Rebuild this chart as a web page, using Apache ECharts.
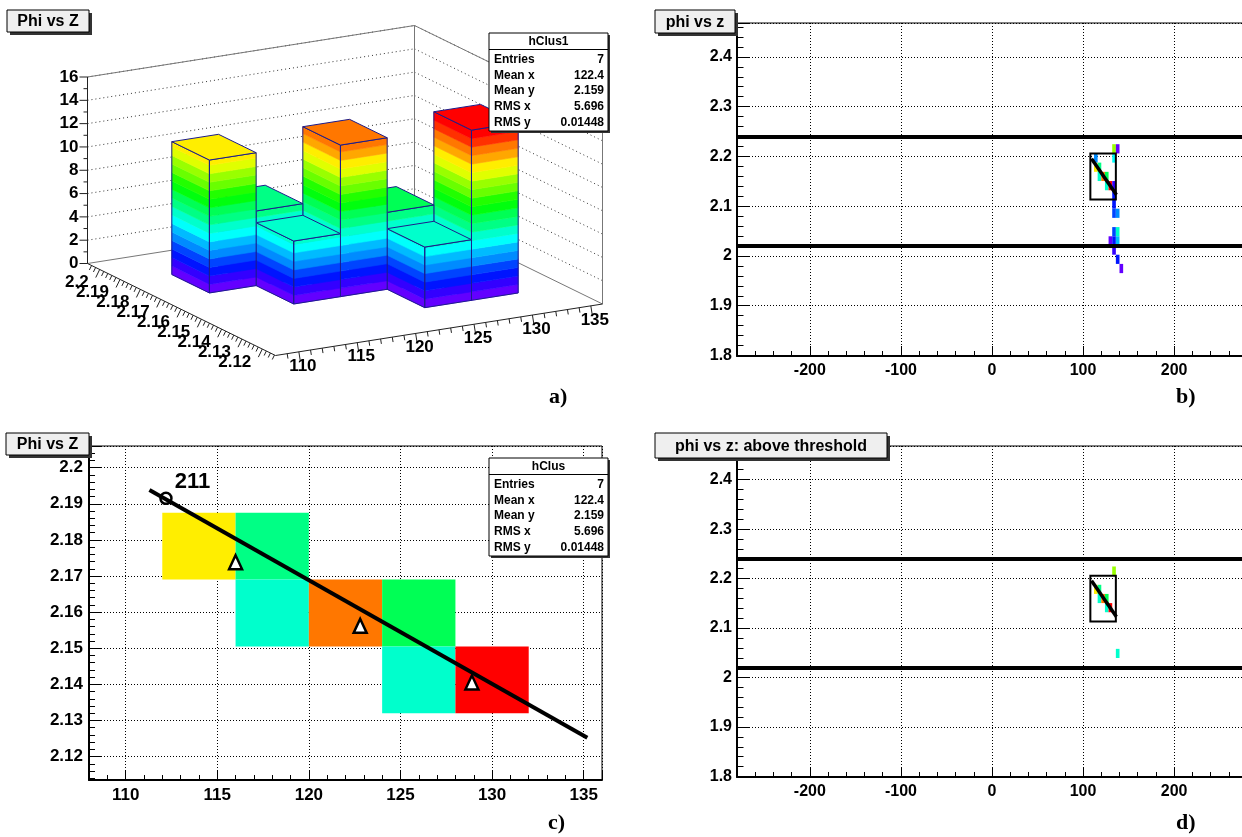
<!DOCTYPE html>
<html>
<head>
<meta charset="utf-8">
<title>Phi vs Z</title>
<script src="https://cdn.jsdelivr.net/npm/echarts@6/dist/echarts.min.js"></script>
<style>
  html, body { margin: 0; padding: 0; background: #fff; }
  #chart { width: 1242px; height: 837px; }
</style>
</head>
<body>
<div id="chart"></div>
<script>
// cluster histogram (hClus / hClus1): lower bin edges in z and phi, bin contents
const clusZ = [112, 116, 116, 120, 124, 124, 128]
const clusPhi = [2.169, 2.169, 2.1505, 2.1505, 2.1505, 2.132, 2.132]
const clusVal = [11.4, 6.4, 5.4, 13.0, 6.6, 5.2, 14.6]

// the other hits of the event (panel b), same binning
const hitZ = [132, 136, 112, 132, 132, 132, 132, 132, 136, 132, 136, 128, 132, 136, 132, 136, 140]
const hitPhi = [2.206, 2.206, 2.1875, 2.1875, 2.132, 2.1135, 2.095, 2.0765, 2.0765, 2.0395, 2.0395, 2.021, 2.021, 2.021, 2.0025, 1.984, 1.9655]
const hitVal = [9.8, 0.6, 3.3, 4.4, 1.2, 1.6, 2.0, 2.2, 3.0, 2.2, 5.3, 0.5, 1.8, 4.0, 1.0, 1.6, 0.6]

const zBin = 4
const phiBin = 0.0185
const threshold = 5

const clusZRange = [108, 136]
const clusPhiRange = [2.1135, 2.206]
const eventZRange = [-280, 280]
const eventPhiRange = [1.799, 2.468]
const phiWindow = [2.0195, 2.2435]

// straight line fit through the cluster
const fitZ = [111.3, 135.2]
const fitPhi = [2.1938, 2.1252]
const fitZEvent = [109.3, 136.6]
const fitPhiEvent = [2.1955, 2.1228]

// seed point and column centroids
const seedZ = [112.2]
const seedPhi = [2.1915]
const seedLabel = ['211']
const centroidZ = [116.0, 122.8, 128.9]
const centroidPhi = [2.1738, 2.1562, 2.1405]

// lego plot tick labels
const legoZTicks = [110, 115, 120, 125, 130, 135]
const legoPhiTicks = [2.12, 2.13, 2.14, 2.15, 2.16, 2.17, 2.18, 2.19, 2.2]
const legoCntTicks = [0, 2, 4, 6, 8, 10, 12, 14, 16]
const legoCntMax = 16

const statLabels = ['Entries', 'Mean x', 'Mean y', 'RMS x', 'RMS y']
const statValues = ['7', '122.4', '2.159', '5.696', '0.01448']

// ROOT "pretty" palette, 20 contour levels
const paletteMax = 14.6
const nLevels = 20
function levelColor(level) {
  const idx = Math.min(49, Math.floor((level + 0.99) * 50 / nLevels))
  const hue = 280 - (idx + 1) * 5.6
  return 'hsl(' + hue.toFixed(1) + ',100%,50%)'
}
function valueColor(v) {
  return levelColor(Math.min(nLevels - 1, Math.floor(v / paletteMax * nLevels)))
}

// parallel projection of the lego box onto panel a (pixels)
const lego = { ox: 275.5, oy: 355.5, zx: 327, zy: -51.5, px: -188, py: -92, cy: -186.5 }
function legoPoint(z, phi, cnt) {
  const u = (z - clusZRange[0]) / (clusZRange[1] - clusZRange[0])
  const v = (phi - clusPhiRange[0]) / (clusPhiRange[1] - clusPhiRange[0])
  const w = cnt / legoCntMax
  return [lego.ox + u * lego.zx + v * lego.px, lego.oy + u * lego.zy + v * lego.py + w * lego.cy]
}

const FONT = '"Liberation Sans", Arial, sans-serif'
const labelFont = 'bold 17px ' + FONT

function renderLegoFrame(params, api) {
  const P = (z, p, c) => api.coord(legoPoint(z, p, c))
  const z0 = clusZRange[0], z1 = clusZRange[1]
  const p0 = clusPhiRange[0], p1 = clusPhiRange[1]
  const top = legoCntMax
  const children = []
  const line = (a, b, style) => children.push({
    type: 'line', shape: { x1: a[0], y1: a[1], x2: b[0], y2: b[1] }, style: style
  })
  const text = (pt, str, align) => children.push({
    type: 'text', x: pt[0], y: pt[1],
    style: { text: str, fill: '#000', font: labelFont, align: align, textAlign: align, verticalAlign: 'middle', textVerticalAlign: 'middle' }
  })
  const dotted = { stroke: '#333', lineWidth: 1, lineDash: [1, 3] }
  const edge = { stroke: '#777', lineWidth: 1 }
  const axis = { stroke: '#222', lineWidth: 1 }

  legoCntTicks.forEach(c => {
    if (c === 0) return
    line(P(z0, p1, c), P(z1, p1, c), dotted)
    line(P(z1, p1, c), P(z1, p0, c), dotted)
  })
  line(P(z0, p1, top), P(z1, p1, top), edge)
  line(P(z1, p1, 0), P(z1, p1, top), edge)
  line(P(z1, p1, top), P(z1, p0, top), edge)
  line(P(z1, p0, 0), P(z1, p0, top), edge)
  line(P(z0, p1, 0), P(z1, p1, 0), edge)
  line(P(z1, p1, 0), P(z1, p0, 0), edge)
  line(P(z0, p1, 0), P(z0, p1, top), axis)
  line(P(z0, p0, 0), P(z1, p0, 0), axis)
  line(P(z0, p0, 0), P(z0, p1, 0), axis)

  // z axis (front-right edge)
  const dz = [0.156, 0.988]
  for (let z = z0 + 1; z < z1; z++) {
    const a = P(z, p0, 0)
    const len = z % 5 === 0 ? 9 : 5
    line(a, [a[0] + dz[0] * len, a[1] + dz[1] * len], axis)
  }
  legoZTicks.forEach(z => {
    const a = P(z, p0, 0)
    text([a[0] + 4, a[1] + 14], String(z), 'center')
  })
  // phi axis (front-left edge)
  const dp = [-0.44, 0.9]
  for (let k = Math.ceil(p0 / 0.002); k * 0.002 < p1; k++) {
    const a = P(z0, k * 0.002, 0)
    const len = k % 5 === 0 ? 9 : 5
    line(a, [a[0] + dp[0] * len, a[1] + dp[1] * len], axis)
  }
  legoPhiTicks.forEach(p => {
    const a = P(z0, p, 0)
    text([a[0] - 11, a[1] + 13], String(p), 'right')
  })
  // count axis
  for (let c = 0; c <= top; c++) {
    const a = P(z0, p1, c)
    const len = c % 2 === 0 ? 8 : 4
    line(a, [a[0] - len, a[1]], axis)
  }
  legoCntTicks.forEach(c => {
    const a = P(z0, p1, c)
    text([a[0] - 9, a[1]], String(c), 'right')
  })
  return { type: 'group', children: children }
}

function renderLegoBar(params, api) {
  const z0 = api.value(0), p0 = api.value(1), h = api.value(2)
  const z1 = z0 + zBin, p1 = p0 + phiBin
  const P = (z, p, c) => api.coord(legoPoint(z, p, c))
  const step = paletteMax / nLevels
  const edgeColor = '#1c1c8c'
  const children = []
  for (let j = 0; j * step < h; j++) {
    const lo = j * step, hi = Math.min((j + 1) * step, h)
    const fill = levelColor(j)
    children.push({ type: 'polygon', shape: { points: [P(z0, p1, lo), P(z0, p0, lo), P(z0, p0, hi), P(z0, p1, hi)] },
      style: { fill: fill, stroke: fill, lineWidth: 0.6 } })
    children.push({ type: 'polygon', shape: { points: [P(z0, p0, lo), P(z1, p0, lo), P(z1, p0, hi), P(z0, p0, hi)] },
      style: { fill: fill, stroke: fill, lineWidth: 0.6 } })
  }
  const topLevel = Math.min(nLevels - 1, Math.floor(h / step))
  children.push({ type: 'polygon', shape: { points: [P(z0, p0, 0), P(z1, p0, 0), P(z1, p0, h), P(z0, p0, h)] },
    style: { fill: 'none', stroke: edgeColor, lineWidth: 1 } })
  children.push({ type: 'polygon', shape: { points: [P(z0, p1, 0), P(z0, p0, 0), P(z0, p0, h), P(z0, p1, h)] },
    style: { fill: 'none', stroke: edgeColor, lineWidth: 1 } })
  children.push({ type: 'polygon', shape: { points: [P(z0, p0, h), P(z1, p0, h), P(z1, p1, h), P(z0, p1, h)] },
    style: { fill: levelColor(topLevel), stroke: edgeColor, lineWidth: 1 } })
  return { type: 'group', children: children }
}

function renderCell(params, api) {
  const a = api.coord([api.value(0), api.value(1) + phiBin])
  const b = api.coord([api.value(0) + zBin, api.value(1)])
  return { type: 'rect', shape: { x: a[0], y: a[1], width: b[0] - a[0], height: b[1] - a[1] },
    style: { fill: valueColor(api.value(2)) } }
}

function renderBox(params, api) {
  const a = api.coord([api.value(0), api.value(3)])
  const b = api.coord([api.value(2), api.value(1)])
  return { type: 'rect', shape: { x: a[0], y: a[1], width: b[0] - a[0], height: b[1] - a[1] },
    style: { fill: 'none', stroke: '#000', lineWidth: 2 } }
}

// data rows
const legoRows = clusZ.map((z, i) => [z, clusPhi[i], clusVal[i]])
const depth = r => (r[0] - clusZRange[0]) / zBin + (r[1] - clusPhiRange[0]) / phiBin
const legoData = legoRows.slice().sort((a, b) => depth(b) - depth(a) || b[0] - a[0])
const eventRows = legoRows.concat(hitZ.map((z, i) => [z, hitPhi[i], hitVal[i]]))
const aboveRows = eventRows.filter(r => r[2] >= threshold)
const boxRow = [[clusZRange[0], clusPhiRange[0], clusZRange[1], clusPhiRange[1]]]

function valueAxis(gridIndex, range, splitNumber, tickLen, fontSize, margin) {
  return {
    type: 'value', gridIndex: gridIndex, min: range[0], max: range[1], splitNumber: splitNumber,
    axisLine: { show: true, onZero: false, lineStyle: { color: '#000', width: 2 } },
    axisTick: { show: true, inside: true, length: tickLen, lineStyle: { color: '#000', width: 1 } },
    minorTick: { show: true, splitNumber: 5, length: tickLen / 2, lineStyle: { color: '#000', width: 1 } },
    splitLine: { show: true, lineStyle: { color: '#000', width: 1, type: [1, 2] } },
    axisLabel: { showMinLabel: false, showMaxLabel: false, color: '#000', fontWeight: 'bold',
      fontSize: fontSize, fontFamily: FONT, margin: margin }
  }
}

const plotGrid = (left, top, width, height) => ({
  left: left, top: top, width: width, height: height, show: true,
  borderColor: '#000', borderWidth: 1, backgroundColor: 'transparent', containLabel: false, outerBoundsMode: 'none'
})

// keep annotation boxes above every series
function onTop(el) {
  el.z = 100
  el.zlevel = 1
  if (el.children) el.children.forEach(onTop)
  return el
}

function titleBox(x, y, w, h, text) {
  return onTop({
    type: 'group', x: x, y: y, children: [
      { type: 'rect', shape: { x: 3, y: 3, width: w, height: h }, style: { fill: '#333' } },
      { type: 'rect', shape: { x: 0, y: 0, width: w, height: h }, style: { fill: '#efefef', stroke: '#000', lineWidth: 1 } },
      { type: 'text', style: { x: w / 2, y: h / 2 + 1, text: text, fill: '#000', font: 'bold 16px ' + FONT,
        align: 'center', textAlign: 'center', verticalAlign: 'middle', textVerticalAlign: 'middle' } }
    ]
  })
}

function statsBox(x, y, name) {
  const w = 119, h = 98
  const children = [
    { type: 'rect', shape: { x: 2, y: 2, width: w, height: h }, style: { fill: '#333' } },
    { type: 'rect', shape: { x: 0, y: 0, width: w, height: h }, style: { fill: '#fff', stroke: '#000', lineWidth: 1 } },
    { type: 'line', shape: { x1: 0, y1: 16.5, x2: w, y2: 16.5 }, style: { stroke: '#000', lineWidth: 1 } },
    { type: 'text', style: { x: w / 2, y: 9, text: name, fill: '#000', font: 'bold 12px ' + FONT,
      align: 'center', textAlign: 'center', verticalAlign: 'middle', textVerticalAlign: 'middle' } }
  ]
  statLabels.forEach((lab, i) => {
    const yy = 26.5 + i * 15.8
    children.push({ type: 'text', style: { x: 5, y: yy, text: lab, fill: '#000', font: 'bold 12px ' + FONT,
      align: 'left', textAlign: 'left', verticalAlign: 'middle', textVerticalAlign: 'middle' } })
    children.push({ type: 'text', style: { x: w - 4, y: yy, text: statValues[i], fill: '#000', font: 'bold 12px ' + FONT,
      align: 'right', textAlign: 'right', verticalAlign: 'middle', textVerticalAlign: 'middle' } })
  })
  return onTop({ type: 'group', x: x, y: y, children: children })
}

function panelLetter(x, y, text) {
  return onTop({ type: 'text', style: { x: x, y: y, text: text, fill: '#000', font: 'bold 22px "Liberation Serif", "Times New Roman", serif',
    align: 'left', textAlign: 'left', verticalAlign: 'middle', textVerticalAlign: 'middle' } })
}

const chart = echarts.init(document.getElementById('chart'), null, { renderer: 'canvas' })

chart.setOption({
  animation: false,
  backgroundColor: '#fff',
  grid: [
    { left: 0, top: 0, width: 620, height: 418, show: false, containLabel: false, outerBoundsMode: 'none' },
    plotGrid(89, 446, 513, 334),
    plotGrid(737, 23, 510, 333),
    plotGrid(737, 446, 510, 331)
  ],
  xAxis: [
    { type: 'value', gridIndex: 0, min: 0, max: 620, show: false },
    valueAxis(1, clusZRange, 5, 10, 17, 7),
    valueAxis(2, eventZRange, 5, 10, 16, 7),
    valueAxis(3, eventZRange, 5, 10, 16, 7)
  ],
  yAxis: [
    { type: 'value', gridIndex: 0, min: 0, max: 418, inverse: true, show: false },
    valueAxis(1, clusPhiRange, 9, 12, 17, 6),
    valueAxis(2, eventPhiRange, 6, 13, 16, 5),
    valueAxis(3, eventPhiRange, 6, 13, 16, 5)
  ],
  series: [
    // panel a: lego plot
    { type: 'custom', xAxisIndex: 0, yAxisIndex: 0, data: [[0, 0]], renderItem: renderLegoFrame, silent: true },
    { type: 'custom', xAxisIndex: 0, yAxisIndex: 0, data: legoData, renderItem: renderLegoBar, silent: true },
    // panel c: colz of the cluster
    { type: 'custom', xAxisIndex: 1, yAxisIndex: 1, data: legoRows, renderItem: renderCell, silent: true },
    { type: 'line', xAxisIndex: 1, yAxisIndex: 1, data: fitZ.map((z, i) => [z, fitPhi[i]]),
      symbol: 'none', lineStyle: { color: '#000', width: 4, opacity: 1 }, silent: true },
    { type: 'scatter', xAxisIndex: 1, yAxisIndex: 1, data: seedZ.map((z, i) => [z, seedPhi[i]]),
      symbol: 'circle', symbolSize: 11,
      itemStyle: { color: 'rgba(255,255,255,0)', borderColor: '#000', borderWidth: 2.5, opacity: 1 },
      label: { show: true, position: 'right', distance: 2, offset: [0, -16], formatter: p => seedLabel[p.dataIndex],
        color: '#000', opacity: 1, fontSize: 22, fontWeight: 'bold', fontFamily: FONT }, silent: true },
    { type: 'scatter', xAxisIndex: 1, yAxisIndex: 1, data: centroidZ.map((z, i) => [z, centroidPhi[i]]),
      symbol: 'triangle', symbolSize: [13, 14],
      itemStyle: { color: '#fff', borderColor: '#000', borderWidth: 2.5, opacity: 1 }, silent: true },
    // panel b: all hits
    { type: 'custom', xAxisIndex: 2, yAxisIndex: 2, data: eventRows, renderItem: renderCell, silent: true },
    { type: 'custom', xAxisIndex: 2, yAxisIndex: 2, data: boxRow, renderItem: renderBox, silent: true },
    { type: 'line', xAxisIndex: 2, yAxisIndex: 2, data: fitZEvent.map((z, i) => [z, fitPhiEvent[i]]),
      symbol: 'none', lineStyle: { color: '#000', width: 3.5 }, silent: true,
      markLine: { silent: true, symbol: ['none', 'none'], label: { show: false },
        lineStyle: { color: '#000', width: 4, type: 'solid' }, data: phiWindow.map(v => ({ yAxis: v })) } },
    // panel d: hits above threshold
    { type: 'custom', xAxisIndex: 3, yAxisIndex: 3, data: aboveRows, renderItem: renderCell, silent: true },
    { type: 'custom', xAxisIndex: 3, yAxisIndex: 3, data: boxRow, renderItem: renderBox, silent: true },
    { type: 'line', xAxisIndex: 3, yAxisIndex: 3, data: fitZEvent.map((z, i) => [z, fitPhiEvent[i]]),
      symbol: 'none', lineStyle: { color: '#000', width: 3.5 }, silent: true,
      markLine: { silent: true, symbol: ['none', 'none'], label: { show: false },
        lineStyle: { color: '#000', width: 4, type: 'solid' }, data: phiWindow.map(v => ({ yAxis: v })) } }
  ],
  graphic: [
    titleBox(7, 10, 82, 22, 'Phi vs Z'),
    titleBox(655, 10, 80, 23, 'phi vs z'),
    titleBox(6, 433, 83, 22, 'Phi vs Z'),
    titleBox(655, 433, 232, 25, 'phi vs z: above threshold'),
    statsBox(489, 33, 'hClus1'),
    statsBox(489, 458, 'hClus'),
    panelLetter(549, 397, 'a)'),
    panelLetter(1176, 397, 'b)'),
    panelLetter(548, 823, 'c)'),
    panelLetter(1176, 823, 'd)')
  ]
})
</script>
</body>
</html>
